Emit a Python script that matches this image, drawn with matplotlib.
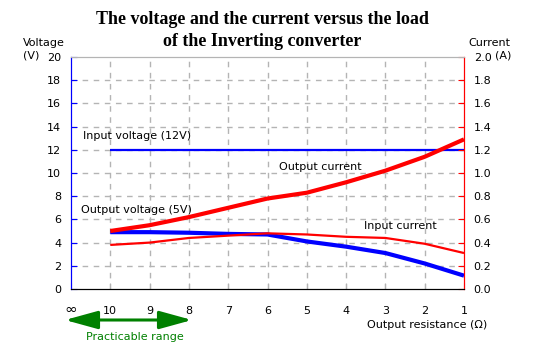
import numpy as np
import matplotlib.pyplot as plt
from matplotlib.patches import FancyArrowPatch

# load resistance (ohm), left to right on the x axis
resistance = [10, 9, 8, 7, 6, 5, 4, 3, 2, 1]
tick_labels = ['\u221e'] + [str(r) for r in resistance]

# measured values
input_voltage = [12.0] * 10
output_voltage = [4.9, 4.9, 4.85, 4.75, 4.7, 4.1, 3.65, 3.1, 2.2, 1.15]
output_current = [0.50, 0.55, 0.62, 0.70, 0.78, 0.83, 0.92, 1.02, 1.14, 1.29]
input_current = [0.38, 0.40, 0.44, 0.46, 0.48, 0.47, 0.45, 0.44, 0.39, 0.31]

BLUE = '#0000ff'
RED = '#ff0000'
GREEN = '#008000'
GRID = '#b4b4b4'
FS = 8

plt.rcParams['font.family'] = ['DejaVu Sans']
W, H = 537, 346
fig = plt.figure(figsize=(W / 100, H / 100), dpi=100)
ax = fig.add_axes([71 / W, 1 - 289 / H, (464 - 71) / W, (289 - 57) / H])
ax2 = ax.twinx()

pos = np.arange(1, len(resistance) + 1)

ax.set_xlim(0, 10)
ax.set_ylim(0, 20)
ax2.set_ylim(0, 2)

# grid
for y in range(2, 20, 2):
    ax.axhline(y, color=GRID, lw=1, ls=(0, (4, 4)), zorder=0)
for x in pos[:-1]:
    ax.axvline(x, color=GRID, lw=1, ls=(0, (4, 4)), zorder=0)

ax.plot(pos, input_voltage, color=BLUE, lw=1.6, solid_capstyle='butt', zorder=3)
ax.plot(pos, output_voltage, color=BLUE, lw=3, solid_capstyle='butt', zorder=4)
ax2.plot(pos, output_current, color=RED, lw=3, solid_capstyle='butt', zorder=3)
ax2.plot(pos, input_current, color=RED, lw=1.6, solid_capstyle='butt', zorder=3)

# spines
for a in (ax, ax2):
    a.spines['top'].set_color(GRID)
    a.spines['bottom'].set_color('black')
    a.spines['left'].set_color(BLUE)
    a.spines['right'].set_color(RED)

ax.set_yticks(range(0, 21, 2))
ax.set_yticklabels([str(v) for v in range(0, 21, 2)], fontsize=FS)
ax.tick_params(axis='y', direction='in', color=BLUE, length=4, pad=7)
ax2.set_yticks(np.arange(0, 2.01, 0.2))
ax2.set_yticklabels(['%.1f' % v for v in np.arange(0, 2.01, 0.2)], fontsize=FS)
ax2.tick_params(axis='y', direction='in', color=RED, length=4, pad=7)

# the infinity label sits a little higher and larger than the others
ax.set_xticks(range(0, 11))
ax.set_xticklabels([''] + tick_labels[1:], fontsize=FS)
ax.tick_params(axis='x', direction='in', color=GRID, length=4, pad=12)
ax.text(0, -0.09, tick_labels[0], transform=ax.get_xaxis_transform(),
        fontsize=11, ha='center', va='center')

# axis captions
fig.text(23 / W, 1 - 43 / H, 'Voltage', fontsize=FS, va='center')
fig.text(23 / W, 1 - 56 / H, '(V)', fontsize=FS, va='center')
fig.text(468 / W, 1 - 43 / H, 'Current', fontsize=FS, va='center')
fig.text(495 / W, 1 - 56 / H, '(A)', fontsize=FS, va='center')
fig.text(487 / W, 1 - 325 / H, 'Output resistance (\u03a9)', fontsize=FS,
         ha='right', va='center')

# series labels
ax.text(0.3, 13.2, 'Input voltage (12V)', fontsize=FS, va='center')
ax.text(5.3, 10.5, 'Output current', fontsize=FS, va='center')
ax.text(0.25, 6.8, 'Output voltage (5V)', fontsize=FS, va='center')
ax.text(7.45, 5.4, 'Input current', fontsize=FS, va='center')

# practicable range arrow
arrow = FancyArrowPatch((65 / W, 1 - 320 / H), (192 / W, 1 - 320 / H),
                        transform=fig.transFigure,
                        arrowstyle='<|-|>,head_length=2.0,head_width=0.55',
                        mutation_scale=10, color=GREEN, lw=2.2,
                        shrinkA=0, shrinkB=0)
fig.patches.append(arrow)
fig.text(135 / W, 1 - 337 / H, 'Practicable range', fontsize=FS,
         color=GREEN, ha='center', va='center')

fig.text(262 / W, 1 - 20 / H, 'The voltage and the current versus the load',
         fontsize=13, fontweight='bold', family='Liberation Serif',
         ha='center', va='center')
fig.text(262 / W, 1 - 42 / H, 'of the Inverting converter',
         fontsize=13, fontweight='bold', family='Liberation Serif',
         ha='center', va='center')

fig.savefig('out.png', dpi=100)
